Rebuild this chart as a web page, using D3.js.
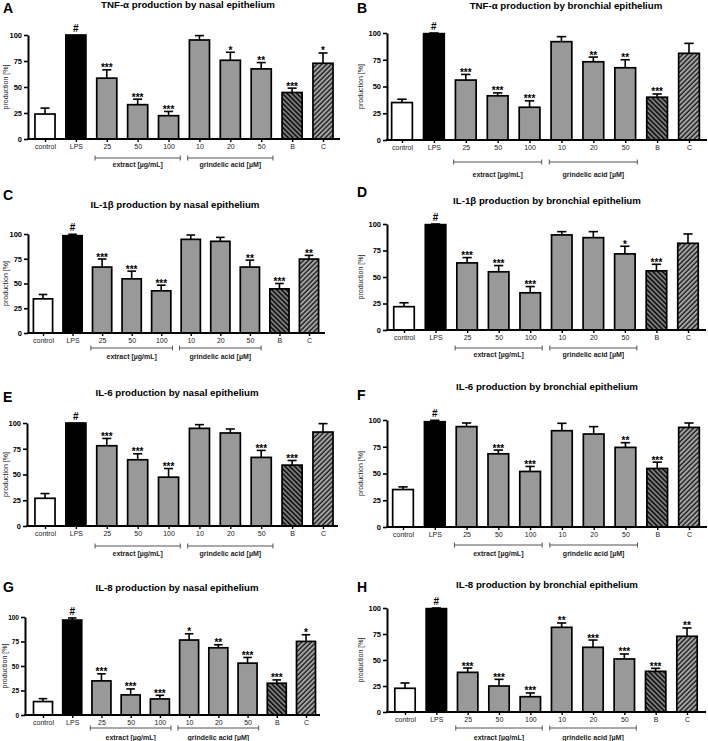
<!DOCTYPE html>
<html>
<head>
<meta charset="utf-8">
<script src="https://cdn.jsdelivr.net/npm/d3@7/dist/d3.min.js"></script>
<style>
  html, body { margin: 0; padding: 0; background: #fff; }
  svg { display: block; font-family: "Liberation Sans", Arial, sans-serif; }
</style>
</head>
<body>
<svg id="chart" width="708" height="741"></svg>
<script>
// ---------------- DATA ----------------
const categories = ["control", "LPS", "25", "50", "100", "10", "20", "50", "B", "C"];
const yTicks = [0, 25, 50, 75, 100];
const groupLabels = ["extract [µg/mL]", "grindelic acid [µM]"];
const panelLetters = ["A", "B", "C", "D", "E", "F", "G", "H"];
const panelTitles = [
  "TNF-α production by nasal epithelium",
  "TNF-α production by bronchial epithelium",
  "IL-1β production by nasal epithelium",
  "IL-1β production by bronchial epithelium",
  "IL-6 production by nasal epithelium",
  "IL-6 production by bronchial epithelium",
  "IL-8 production by nasal epithelium",
  "IL-8 production by bronchial epithelium"
];
const yLabel = "production [%]";

const tnfNasal      = [24, 100, 58.5, 33, 22.4, 95.2, 75.7, 67.4, 44.7, 72.8];
const tnfNasalErr   = [5.7, 0, 8, 5.3, 4.1, 4.2, 7.7, 6.1, 4.2, 9.9];
const tnfNasalSig   = ["", "#", "***", "***", "***", "", "*", "**", "***", "*"];

const tnfBronch     = [35, 99.4, 56, 41.3, 30.6, 91.9, 73.1, 67.5, 40, 81];
const tnfBronchErr  = [3.1, 0.6, 5.3, 2.7, 6, 4.7, 4.4, 7.5, 3, 9.3];
const tnfBronchSig  = ["", "#", "***", "***", "***", "", "**", "**", "***", ""];

const il1Nasal      = [34.5, 98.3, 66.6, 54.7, 42.6, 94.6, 92.6, 66.6, 44.6, 74.7];
const il1NasalErr   = [4.4, 1.4, 8.1, 7.8, 5.7, 4.4, 4, 7, 5.4, 3.7];
const il1NasalSig   = ["", "#", "***", "***", "***", "", "", "**", "***", "**"];

const il1Bronch     = [22, 99.4, 63.3, 54.9, 35.1, 89.7, 87.1, 71.8, 55.8, 81.8];
const il1BronchErr  = [3.7, 0.6, 5, 5.9, 5.9, 3.1, 5.7, 7.2, 6.2, 8.8];
const il1BronchSig  = ["", "#", "***", "***", "***", "", "", "*", "***", ""];

const il6Nasal      = [26.9, 100, 77.9, 64.3, 47.4, 94.8, 90.3, 66.6, 59.1, 91.2];
const il6NasalErr   = [4.6, 0, 7.1, 5.8, 8.4, 3.6, 3.9, 6.8, 4.5, 8.2];
const il6NasalSig   = ["", "#", "***", "***", "***", "", "", "***", "***", ""];

const il6Bronch     = [35, 98.4, 93.8, 68.4, 51.9, 90, 86.9, 74.4, 54.7, 93.1];
const il6BronchErr  = [2.5, 1.3, 3.4, 3.5, 4.7, 6.9, 6.9, 4.4, 5.9, 4.1];
const il6BronchSig  = ["", "#", "", "***", "***", "", "", "**", "***", ""];

const il8Nasal      = [13.7, 96.9, 34.8, 20.5, 16.4, 76.5, 68.6, 52.9, 32.4, 75.1];
const il8NasalErr   = [3, 2.1, 7.2, 6.1, 3.7, 6.4, 3.1, 5.8, 3.4, 6.8];
const il8NasalSig   = ["", "#", "***", "***", "***", "*", "**", "***", "***", "*"];

const il8Bronch     = [22.8, 99.4, 38.1, 25, 14.7, 81.4, 62.2, 51, 39.1, 72.8];
const il8BronchErr  = [5.1, 0.6, 4.2, 6.4, 3.6, 4.2, 7, 4.8, 2.9, 8];
const il8BronchSig  = ["", "#", "***", "***", "***", "**", "***", "***", "***", "**"];

const seriesValues = [tnfNasal, tnfBronch, il1Nasal, il1Bronch, il6Nasal, il6Bronch, il8Nasal, il8Bronch];
const seriesErrors = [tnfNasalErr, tnfBronchErr, il1NasalErr, il1BronchErr, il6NasalErr, il6BronchErr, il8NasalErr, il8BronchErr];
const seriesSig    = [tnfNasalSig, tnfBronchSig, il1NasalSig, il1BronchSig, il6NasalSig, il6BronchSig, il8NasalSig, il8BronchSig];

// ---------------- LAYOUT (pixels) ----------------
const layouts = [
  {left: 28,  y100: 35,  y0: 139, c0: 45,  c9: 323, xEnd: 340, titleX: 188, titleY: 8,   letterX: 3,   letterY: 13,  bracketY: 158, labelY: 167, tickFont: 7.5, yLabX: 7.5},
  {left: 387, y100: 33,  y0: 140, c0: 402, c9: 689, xEnd: 707, titleX: 566, titleY: 9,   letterX: 357, letterY: 13,  bracketY: 162, labelY: 177, tickFont: 7.5, yLabX: 363},
  {left: 28,  y100: 234, y0: 333, c0: 43,  c9: 309, xEnd: 325, titleX: 175, titleY: 208, letterX: 3,   letterY: 200, bracketY: 348, labelY: 359, tickFont: 7.5, yLabX: 7.5},
  {left: 387, y100: 224, y0: 330, c0: 404, c9: 688, xEnd: 706, titleX: 547, titleY: 204, letterX: 357, letterY: 197, bracketY: 348, labelY: 357, tickFont: 7.5, yLabX: 363},
  {left: 27,  y100: 423, y0: 526, c0: 45,  c9: 323, xEnd: 338, titleX: 177, titleY: 396, letterX: 3,   letterY: 402, bracketY: 546, labelY: 556, tickFont: 7.5, yLabX: 7.5},
  {left: 387, y100: 420, y0: 527, c0: 403, c9: 689, xEnd: 707, titleX: 547, titleY: 390, letterX: 357, letterY: 400, bracketY: 545, labelY: 556, tickFont: 7.5, yLabX: 363},
  {left: 25,  y100: 617, y0: 715, c0: 43,  c9: 306, xEnd: 320, titleX: 177, titleY: 591, letterX: 3,   letterY: 592, bracketY: 728, labelY: 740, tickFont: 6.5, yLabX: 7},
  {left: 387, y100: 608, y0: 712, c0: 405, c9: 687, xEnd: 706, titleX: 547, titleY: 588, letterX: 357, letterY: 592, bracketY: 728, labelY: 740, tickFont: 7.5, yLabX: 363}
];

const fills = ["#ffffff", "#000000", "#999999", "#999999", "#999999", "#999999", "#999999", "#999999", "url(#hatchB)", "url(#hatchC)"];
const groups = [[2, 4], [5, 7]];

// ---------------- DRAW ----------------
const svg = d3.select("#chart");
const defs = svg.append("defs");

function hatch(id, angle, bg, lw) {
  const p = defs.append("pattern")
    .attr("id", id).attr("patternUnits", "userSpaceOnUse")
    .attr("width", 3.4).attr("height", 3.4)
    .attr("patternTransform", `rotate(${angle})`);
  p.append("rect").attr("width", 3.4).attr("height", 3.4).attr("fill", bg);
  p.append("line").attr("x1", 1).attr("x2", 1).attr("y1", 0).attr("y2", 3.4)
    .attr("stroke", "#111").attr("stroke-width", lw);
}
hatch("hatchB", -45, "#8a8a8a", 1.8);
hatch("hatchC", 45, "#a5a5a5", 1.3);

panelTitles.forEach((title, pi) => {
  const L = layouts[pi];
  const vals = seriesValues[pi], errs = seriesErrors[pi], sig = seriesSig[pi];
  const g = svg.append("g");
  const idx = d3.range(categories.length);

  const y = d3.scaleLinear().domain([0, 100]).range([L.y0, L.y100]);
  const x = d3.scalePoint().domain(idx).range([L.c0, L.c9]);
  const bw = x.step() * 0.65;

  // panel letter & title
  g.append("text").attr("x", L.letterX).attr("y", L.letterY)
    .attr("font-size", 14).attr("font-weight", "bold").text(panelLetters[pi]);
  g.append("text").attr("x", L.titleX).attr("y", L.titleY).attr("text-anchor", "middle")
    .attr("font-size", 9.7).attr("font-weight", "bold").text(title);

  // y label
  g.append("text")
    .attr("transform", `translate(${L.yLabX},${(L.y0 + L.y100) / 2}) rotate(-90)`)
    .attr("text-anchor", "middle").attr("font-size", 7).attr("fill", "#222")
    .text(yLabel);

  // bars
  g.selectAll("rect.bar").data(idx).join("rect").attr("class", "bar")
    .attr("x", i => x(i) - bw / 2).attr("width", bw)
    .attr("y", i => y(vals[i])).attr("height", i => y(0) - y(vals[i]))
    .attr("fill", i => fills[i]).attr("stroke", "#000").attr("stroke-width", 1.7);

  // error bars
  const capW = bw * 0.45;
  g.selectAll("line.err").data(idx.filter(i => errs[i] > 0)).join("line").attr("class", "err")
    .attr("x1", i => x(i)).attr("x2", i => x(i))
    .attr("y1", i => y(vals[i])).attr("y2", i => y(vals[i] + errs[i]))
    .attr("stroke", "#000").attr("stroke-width", 1.6);
  g.selectAll("line.cap").data(idx.filter(i => errs[i] > 0)).join("line").attr("class", "cap")
    .attr("x1", i => x(i) - capW / 2).attr("x2", i => x(i) + capW / 2)
    .attr("y1", i => y(vals[i] + errs[i])).attr("y2", i => y(vals[i] + errs[i]))
    .attr("stroke", "#000").attr("stroke-width", 1.6);

  // significance marks
  g.selectAll("text.sig").data(idx.filter(i => sig[i])).join("text").attr("class", "sig")
    .attr("x", i => x(i)).attr("text-anchor", "middle")
    .attr("y", i => sig[i] === "#" ? y(vals[i] + errs[i]) - 3 : y(vals[i] + errs[i]) + 1.5)
    .attr("font-size", 10)
    .attr("font-weight", "bold").attr("fill", "#000")
    .text(i => sig[i]);

  // y axis
  const ya = g.append("g").attr("transform", `translate(${L.left},0)`)
    .call(d3.axisLeft(y).tickValues(yTicks).tickSize(4).tickPadding(2).tickSizeOuter(0));
  ya.select(".domain").attr("stroke-width", 2);
  ya.selectAll(".tick line").attr("stroke-width", 1.6);
  ya.selectAll(".tick text").attr("font-size", L.tickFont).attr("font-weight", "bold")
    .attr("font-family", "Liberation Sans, Arial, sans-serif");

  // x axis
  const xa = g.append("g").attr("transform", `translate(0,${L.y0})`)
    .call(d3.axisBottom(x).tickFormat(i => categories[i]).tickSize(3).tickPadding(2).tickSizeOuter(0));
  xa.select(".domain").remove();
  xa.selectAll(".tick line").attr("stroke-width", 1.4);
  xa.selectAll(".tick text").attr("font-size", 7).attr("fill", "#222")
    .attr("font-family", "Liberation Sans, Arial, sans-serif");
  g.append("line").attr("x1", L.left - 1).attr("x2", L.xEnd)
    .attr("y1", L.y0).attr("y2", L.y0).attr("stroke", "#000").attr("stroke-width", 2);

  // group brackets
  groups.forEach(([a, b], gi) => {
    const x1 = x(a) - x.step() * 0.38, x2 = x(b) + x.step() * 0.38;
    const bg = g.append("g").attr("stroke", "#555").attr("stroke-width", 1);
    bg.append("line").attr("x1", x1).attr("x2", x2).attr("y1", L.bracketY).attr("y2", L.bracketY);
    bg.append("line").attr("x1", x1).attr("x2", x1).attr("y1", L.bracketY - 2.5).attr("y2", L.bracketY + 2.5);
    bg.append("line").attr("x1", x2).attr("x2", x2).attr("y1", L.bracketY - 2.5).attr("y2", L.bracketY + 2.5);
    g.append("text").attr("x", (x1 + x2) / 2).attr("y", L.labelY).attr("text-anchor", "middle")
      .attr("font-size", 7).attr("font-weight", "bold").attr("fill", "#222").text(groupLabels[gi]);
  });
});
</script>
</body>
</html>
